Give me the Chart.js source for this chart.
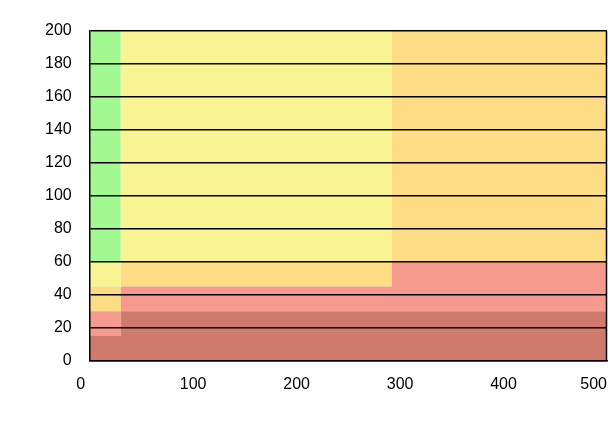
<!DOCTYPE html>
<html>
<head>
<meta charset="utf-8">
<script src="https://cdn.jsdelivr.net/npm/chart.js@4/dist/chart.umd.min.js"></script>
<style>
  body { margin: 0; background: #fff; }
  #wrap { width: 615px; height: 439px; }
</style>
</head>
<body>
<div id="wrap"><canvas id="zones"></canvas></div>
<script>
// x positions where the zones change
var xBreaks = [0, 30, 292, 500];

// upper edge of each zone, value i holds from xBreaks[i] to xBreaks[i+1]
var redTop    = [15, 30, 30, 30];
var salmonTop = [30, 45, 60, 60];
var orangeTop = [45, 60, 200, 200];
var yellowTop = [60, 200, 200, 200];
var greenTop  = [200, 200, 200, 200];

var xTicks = [0, 100, 200, 300, 400, 500];
var yTicks = [0, 20, 40, 60, 80, 100, 120, 140, 160, 180, 200];

function pts(tops) {
  return xBreaks.map(function(x, i) { return { x: x, y: tops[i] }; });
}

function zone(tops, color, fill) {
  return {
    data: pts(tops),
    backgroundColor: color,
    borderWidth: 0,
    pointRadius: 0,
    stepped: 'before',
    fill: fill
  };
}

var rightBorder = {
  id: 'rightBorder',
  afterDraw: function(chart) {
    var a = chart.chartArea, c = chart.ctx;
    c.save();
    c.strokeStyle = '#000';
    c.lineWidth = 1.5;
    c.beginPath();
    c.moveTo(a.right - 0.5, a.top);
    c.lineTo(a.right - 0.5, a.bottom);
    c.stroke();
    c.restore();
  }
};

var ctx = document.getElementById('zones').getContext('2d');
var chart = new Chart(ctx, {
  type: 'line',
  data: {
    datasets: [
      zone(redTop, '#d07a6e', 'origin'),
      zone(salmonTop, '#f59a8d', '-1'),
      zone(orangeTop, '#fddc84', '-1'),
      zone(yellowTop, '#f8f492', '-1'),
      zone(greenTop, '#a2f891', '-1')
    ]
  },
  options: {
    responsive: true,
    maintainAspectRatio: false,
    animation: false,
    layout: { padding: { left: 27, right: 8, top: 31, bottom: 31 } },
    plugins: { legend: { display: false }, tooltip: { enabled: false } },
    scales: {
      x: {
        type: 'linear',
        min: 0,
        max: 500,
        afterBuildTicks: function(s) { s.ticks = xTicks.map(function(v) { return { value: v }; }); },
        afterFit: function(s) { s.paddingLeft = 0; s.paddingRight = 0; },
        grid: { display: false, drawTicks: false },
        border: { display: true, color: '#000', width: 1.5, z: 1 },
        ticks: {
          padding: 14,
          color: '#000',
          maxRotation: 0,
          font: { family: 'Liberation Sans', size: 16 },
          callback: function(v) {
            if (v === 0) return '0    ';
            if (v === 500) return '500      ';
            return String(v);
          }
        }
      },
      y: {
        min: 0,
        max: 200,
        afterBuildTicks: function(s) { s.ticks = yTicks.map(function(v) { return { value: v }; }); },
        grid: { color: '#000', lineWidth: 1.5, drawTicks: false, z: 1 },
        border: { display: true, color: '#000', width: 1.5, z: 1 },
        ticks: {
          padding: 18,
          color: '#000',
          font: { family: 'Liberation Sans', size: 16 }
        }
      }
    }
  },
  plugins: [rightBorder]
});
</script>
</body>
</html>
